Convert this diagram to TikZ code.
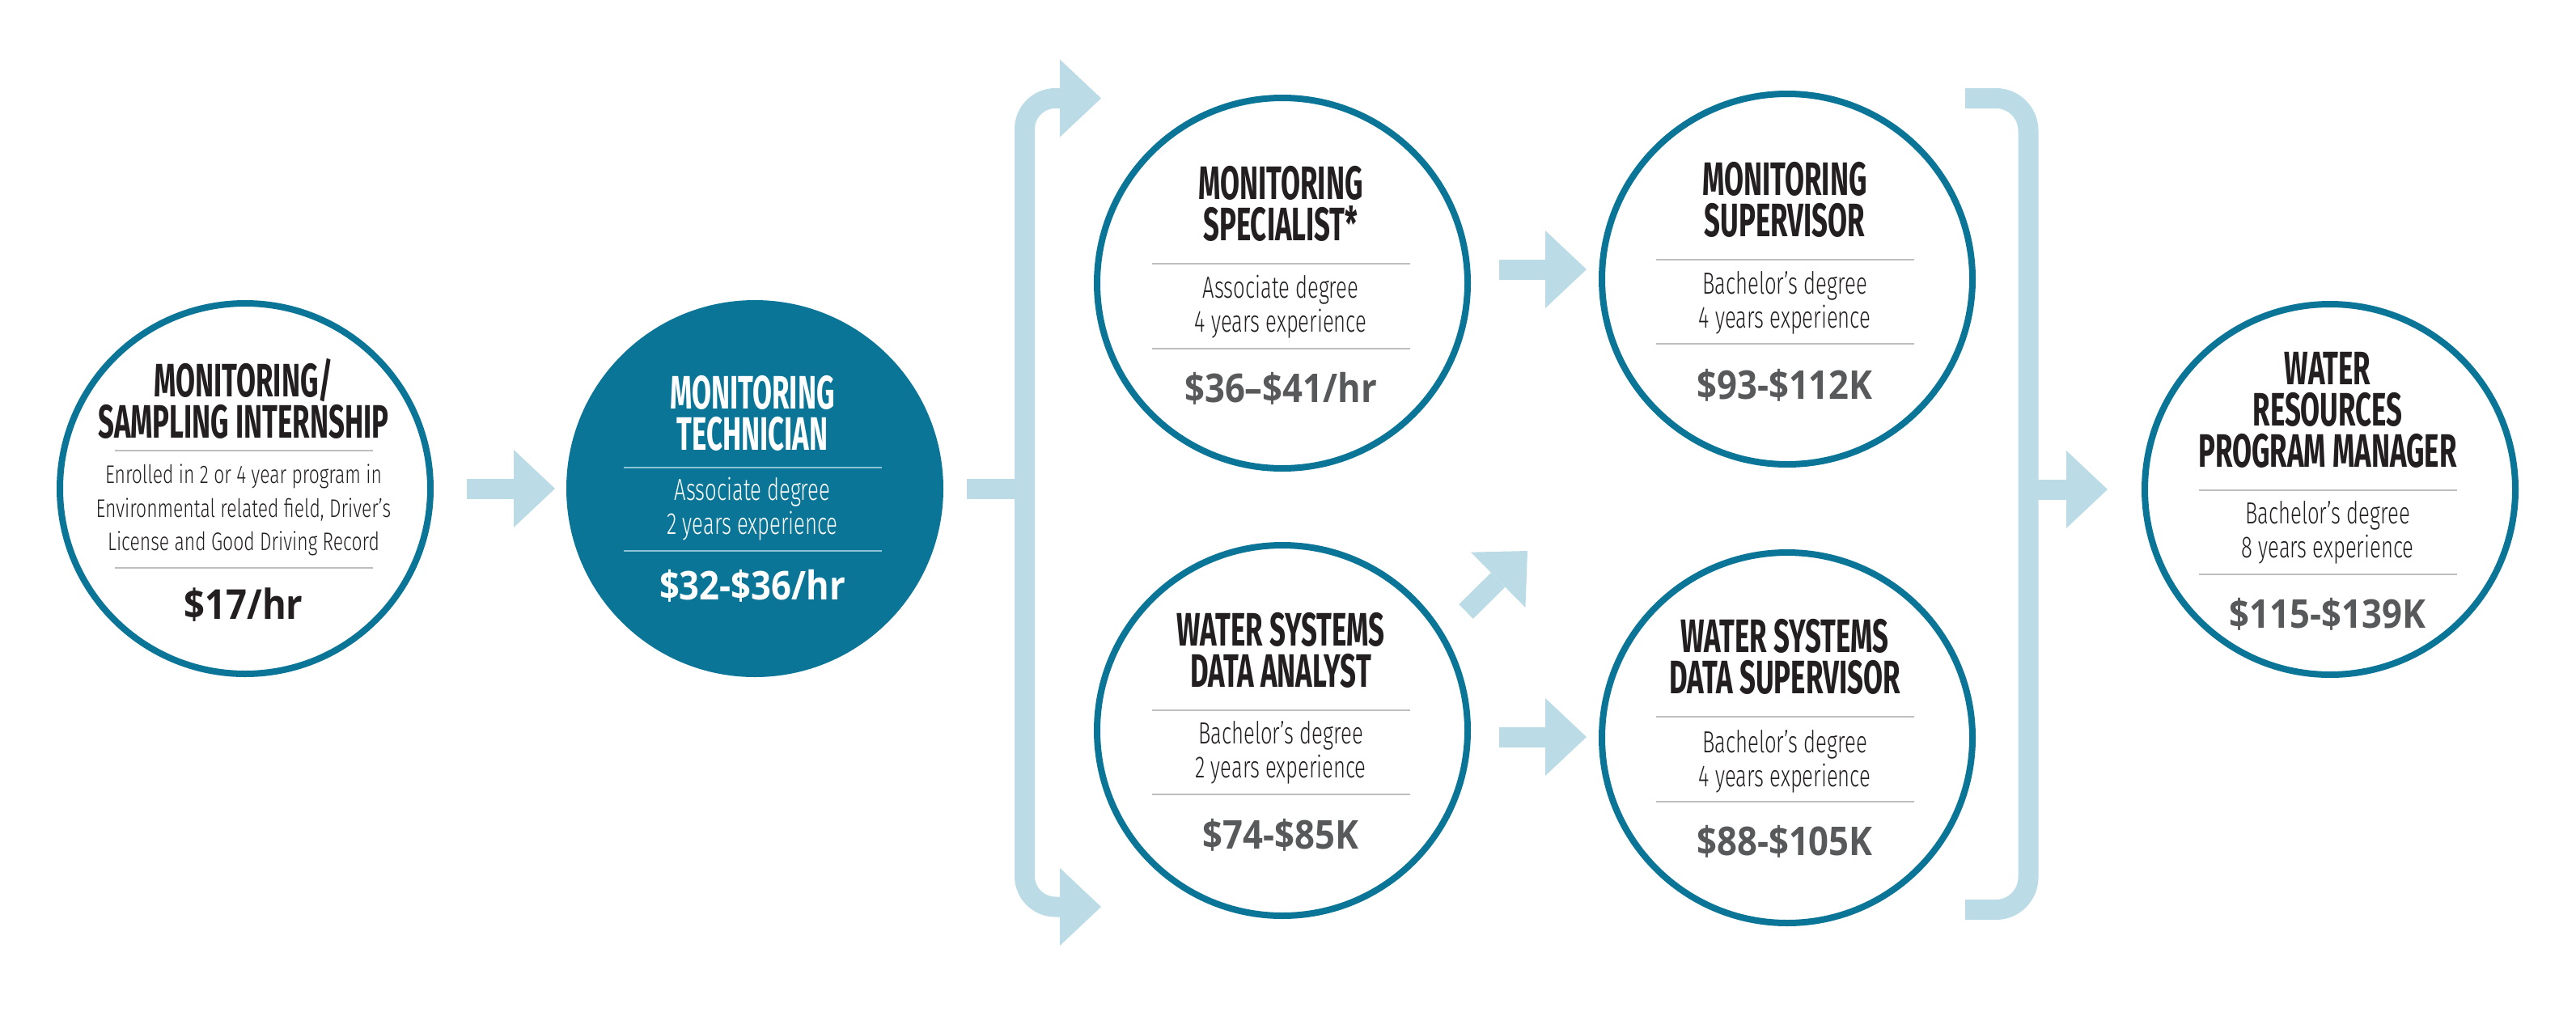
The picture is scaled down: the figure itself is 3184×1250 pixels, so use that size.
\documentclass[tikz,border=0pt]{standalone}
\usepackage{fontspec}
\usetikzlibrary{arrows.meta,calc}
\setmainfont{Fira Sans}
\newfontfamily\titlefont{Fira Sans}[FakeStretch=0.6]
\newfontfamily\bodyfont{Fira Sans Light}[FakeStretch=0.68]
\newfontfamily\bodyfontw{Fira Sans Light}[FakeStretch=0.73]
\newfontfamily\salfont{Open Sans}[FakeStretch=0.89]
\definecolor{tealc}{RGB}{10,117,150}
\definecolor{lblue}{RGB}{187,220,230}
\definecolor{sepgray}{RGB}{190,190,190}
\definecolor{seplight}{RGB}{140,196,214}
\definecolor{ink}{RGB}{35,31,32}
\definecolor{salgray}{RGB}{88,89,91}
\tikzset{
  circ/.style={circle, draw=tealc, fill=white, line width=8pt, minimum size=458pt, inner sep=0pt, outer sep=0pt},
  circfill/.style={circle, draw=tealc, fill=tealc, line width=8pt, minimum size=458pt, inner sep=0pt, outer sep=0pt},
  ttl/.style={anchor=north, inner sep=0pt, align=center, text=ink, font=\titlefont\bfseries\fontsize{58}{51}\selectfont},
  body/.style={anchor=base, inner sep=0pt, text height=27pt, text depth=7pt, text=ink, font=\bodyfont\fontsize{37.7}{40}\selectfont},
  bodysmall/.style={anchor=base, inner sep=0pt, text height=23pt, text depth=6pt, text=ink, font=\bodyfontw\fontsize{31.4}{34}\selectfont},
  sal/.style={anchor=base, inner sep=0pt, text=salgray, font=\salfont\bfseries\fontsize{49}{49}\selectfont},
  sep/.style={draw=sepgray, line width=2pt},
  seplt/.style={draw=seplight, line width=2pt},
  bar/.style={draw=lblue, line width=25pt, line cap=butt},
  barrow/.style={bar, -{Triangle[width=96pt,length=51pt,line width=0pt]}},
}
\begin{document}
\begin{tikzpicture}[x=1pt,y=-1pt]
\useasboundingbox (0,0) rectangle (3184,1250);
% circles
\node[circ] (c1) at (303,604) {};
\node[circfill] (c2) at (933,604) {};
\node[circ] (c3) at (1585,350) {};
\node[circ] (c4) at (1585,903) {};
\node[circ] (c5) at (2209,345) {};
\node[circ] (c6) at (2209,912) {};
\node[circ] (c7) at (2880,605) {};

% circle 1
\node[ttl] (t1) at (301,443) {MONITORING/\\SAMPLING INTERNSHIP};
\draw[sep] (141.5,557) -- (460.5,557);
\node[bodysmall] (b1a) at (301,597) {Enrolled in 2 or 4 year program in};
\node[bodysmall] (b1b) at (301,639) {Environmental related field, Driver’s};
\node[bodysmall] (b1c) at (301,680) {License and Good Driving Record};
\draw[sep] (141.5,702) -- (460.5,702);
\node[sal, text=ink, font=\salfont\bfseries\fontsize{51}{51}\selectfont] (s1) at (301,765) {\$17/hr};

% circle 2
\node[ttl, text=white] (t2) at (930,464) {MONITORING\\TECHNICIAN};
\draw[seplt] (770.5,578) -- (1089.5,578);
\node[body, text=white] (b2a) at (930,618) {Associate degree};
\node[body, text=white] (b2b) at (930,660) {2 years experience};
\draw[seplt] (770.5,681) -- (1089.5,681);
\node[sal, text=white] (s2) at (930,741) {\$32-\$36/hr};

% circle 3
\node[ttl] (t3) at (1583,205) {MONITORING\\SPECIALIST*};
\draw[sep] (1423.5,326) -- (1742.5,326);
\node[body] (b3a) at (1583,368) {Associate degree};
\node[body] (b3b) at (1583,410) {4 years experience};
\draw[sep] (1423.5,431) -- (1742.5,431);
\node[sal] (s3) at (1583,497) {\$36–\$41/hr};

% circle 4
\node[ttl] (t4) at (1583,757) {WATER SYSTEMS\\DATA ANALYST};
\draw[sep] (1423.5,878) -- (1742.5,878);
\node[body] (b4a) at (1583,919) {Bachelor’s degree};
\node[body] (b4b) at (1583,961) {2 years experience};
\draw[sep] (1423.5,982) -- (1742.5,982);
\node[sal] (s4) at (1583,1049) {\$74-\$85K};

% circle 5
\node[ttl] (t5) at (2206,200) {MONITORING\\SUPERVISOR};
\draw[sep] (2046.5,321) -- (2365.5,321);
\node[body] (b5a) at (2206,363) {Bachelor’s degree};
\node[body] (b5b) at (2206,405) {4 years experience};
\draw[sep] (2046.5,425) -- (2365.5,425);
\node[sal] (s5) at (2206,493) {\$93-\$112K};

% circle 6
\node[ttl] (t6) at (2206,765) {WATER SYSTEMS\\DATA SUPERVISOR};
\draw[sep] (2046.5,886) -- (2365.5,886);
\node[body] (b6a) at (2206,930) {Bachelor’s degree};
\node[body] (b6b) at (2206,972) {4 years experience};
\draw[sep] (2046.5,991) -- (2365.5,991);
\node[sal] (s6) at (2206,1057) {\$88-\$105K};

% circle 7
\node[ttl] (t7) at (2877,435) {WATER\\RESOURCES\\PROGRAM MANAGER};
\draw[sep] (2717.5,606) -- (3036.5,606);
\node[body] (b7a) at (2877,647) {Bachelor’s degree};
\node[body] (b7b) at (2877,689) {8 years experience};
\draw[sep] (2717.5,710) -- (3036.5,710);
\node[sal] (s7) at (2877,776) {\$115-\$139K};

% connectors
\draw[barrow, shorten <=45pt, shorten >=18pt] (c1.east) -- (c2.west);
\coordinate (lbm) at (1266.5,604);
\coordinate (lbt) at (1266.5,121.5);
\coordinate (lbtip) at (1361,121.5);
\coordinate (lbb) at (1266.5,1121);
\coordinate (lbbtip) at (1361,1121);
\draw[bar, shorten <=33pt] (c2.east) -- (lbm);
\draw[barrow, rounded corners=38pt] (lbm) -- (lbt) -- (lbtip);
\draw[barrow, rounded corners=38pt] (lbm) -- (lbb) -- (lbbtip);
\draw[barrow, shorten <=39pt, shorten >=19pt] ([yshift=17pt]c3.east) -- ([yshift=12pt]c5.west);
\draw[barrow, shorten <=39pt, shorten >=19pt] ([yshift=-8pt]c4.east) -- ([yshift=1pt]c6.west);
\coordinate (d1) at (1812,756);
\coordinate (d2) at (1888,681);
\draw[barrow] (d1) -- (d2);
\coordinate (rbt0) at (2429,121.5);
\coordinate (rbt) at (2507,121.5);
\coordinate (rbb) at (2507,1124.5);
\coordinate (rbb0) at (2429,1124.5);
\coordinate (rbm) at (2507,605);
\draw[bar, rounded corners=40pt] (rbt0) -- (rbt) -- (rbb) -- (rbb0);
\draw[barrow, shorten >=46pt] (rbm) -- (c7.west);
\end{tikzpicture}
\end{document}
